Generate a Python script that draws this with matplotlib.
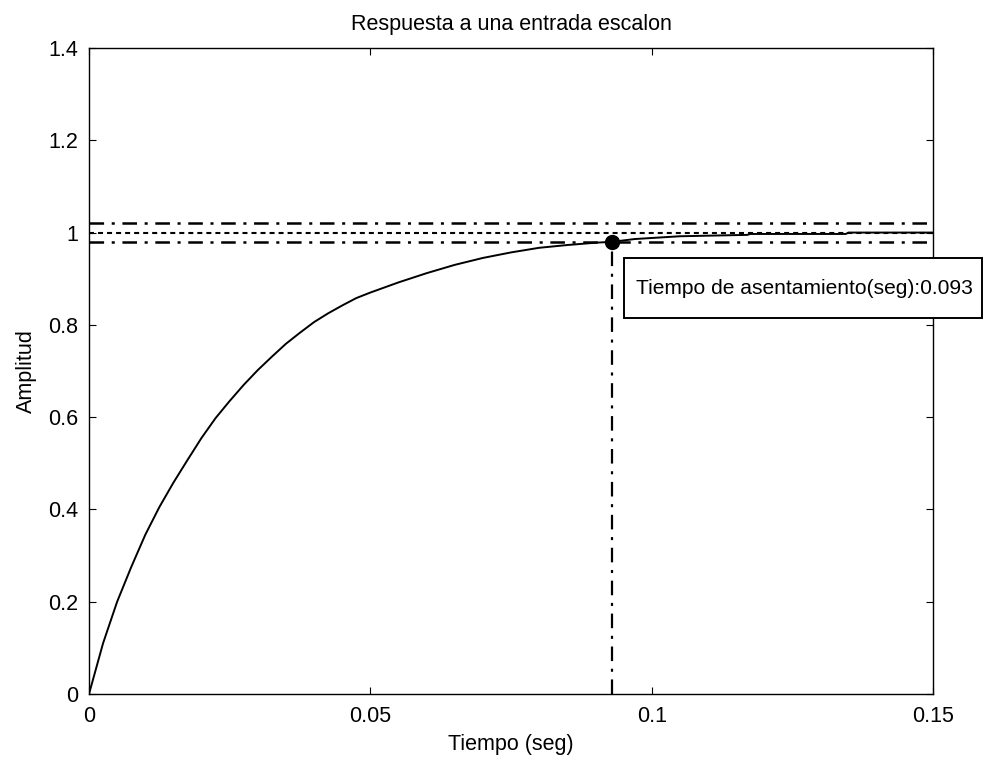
import matplotlib
matplotlib.use('Agg')
import matplotlib.pyplot as plt
from matplotlib.patches import Rectangle

plt.rcParams['font.family'] = ['Liberation Sans', 'DejaVu Sans']
plt.rcParams['lines.scale_dashes'] = False

# step response read point by point
t = [0, 0.0025, 0.005, 0.0075, 0.01, 0.0125, 0.015, 0.0175, 0.02, 0.0225,
     0.025, 0.0275, 0.03, 0.0325, 0.035, 0.0375, 0.04, 0.0425, 0.045, 0.0475,
     0.05, 0.055, 0.06, 0.065, 0.07, 0.075, 0.08, 0.085, 0.09, 0.093,
     0.097, 0.105, 0.117, 0.1175, 0.1345, 0.135, 0.15]
y = [0, 0.11, 0.20, 0.275, 0.345, 0.405, 0.458, 0.507, 0.555, 0.598,
     0.635, 0.67, 0.702, 0.731, 0.759, 0.783, 0.806, 0.825, 0.842, 0.858,
     0.870, 0.892, 0.912, 0.930, 0.945, 0.957, 0.967, 0.973, 0.978, 0.980,
     0.986, 0.992, 0.995, 0.997, 0.997, 1.0, 1.0]

ts = 0.093          # tiempo de asentamiento
ys = 0.98
y_final = 1.0
banda = 0.02

xticks = [0, 0.05, 0.1, 0.15]
xticklabels = ['0', '0.05', '0.1', '0.15']
yticks = [0, 0.2, 0.4, 0.6, 0.8, 1.0, 1.2, 1.4]
yticklabels = ['0', '0.2', '0.4', '0.6', '0.8', '1', '1.2', '1.4']

W, H = 985, 761
fig = plt.figure(figsize=(W / 100, H / 100), dpi=100)
ax = fig.add_axes([89 / W, 1 - 694 / H, (933 - 89) / W, (694 - 48) / H])

dashdot = (0, (10.5, 5.5, 2.2, 5.5))
ax.plot(t, y, color='k', lw=1.4)
ax.plot([0, 0.15], [y_final + banda] * 2, color='k', lw=1.8, ls=dashdot)
ax.plot([0, 0.15], [y_final - banda] * 2, color='k', lw=1.8, ls=dashdot)
ax.plot([0, 0.15], [y_final] * 2, color='k', lw=1.5, ls=(0, (3.6, 2.9)))
ax.plot([ts, ts], [0, ys], color='k', lw=1.6, ls=dashdot)
ax.plot([ts], [ys], 'o', color='k', ms=10)

ax.set_xlim(0, 0.15)
ax.set_ylim(0, 1.4)
ax.set_xticks(xticks)
ax.set_xticklabels(xticklabels)
ax.set_yticks(yticks)
ax.set_yticklabels(yticklabels)
ax.tick_params(direction='in', top=True, right=True, length=5, width=0.8,
               labelsize=15.5, colors='k')
ax.tick_params(axis='x', pad=9)
ax.tick_params(axis='y', pad=8)
for s in ax.spines.values():
    s.set_linewidth(1.0)

ax.set_title('Respuesta a una entrada escalon', fontsize=15.5, pad=13)
ax.set_xlabel('Tiempo (seg)', fontsize=15.5, labelpad=5)
ax.set_ylabel('Amplitud', fontsize=15.5, labelpad=8)

# cuadro con el tiempo de asentamiento
fig.patches.append(Rectangle((624 / W, 1 - 318 / H), (982 - 624) / W, 60 / H,
                             transform=fig.transFigure, fill=True, fc='white',
                             ec='k', lw=1.4, zorder=5))
fig.text(636 / W, 1 - 288 / H, 'Tiempo de asentamiento(seg):0.093',
         fontsize=15.1, va='center', ha='left', zorder=6)

fig.savefig('out.png', dpi=100)
